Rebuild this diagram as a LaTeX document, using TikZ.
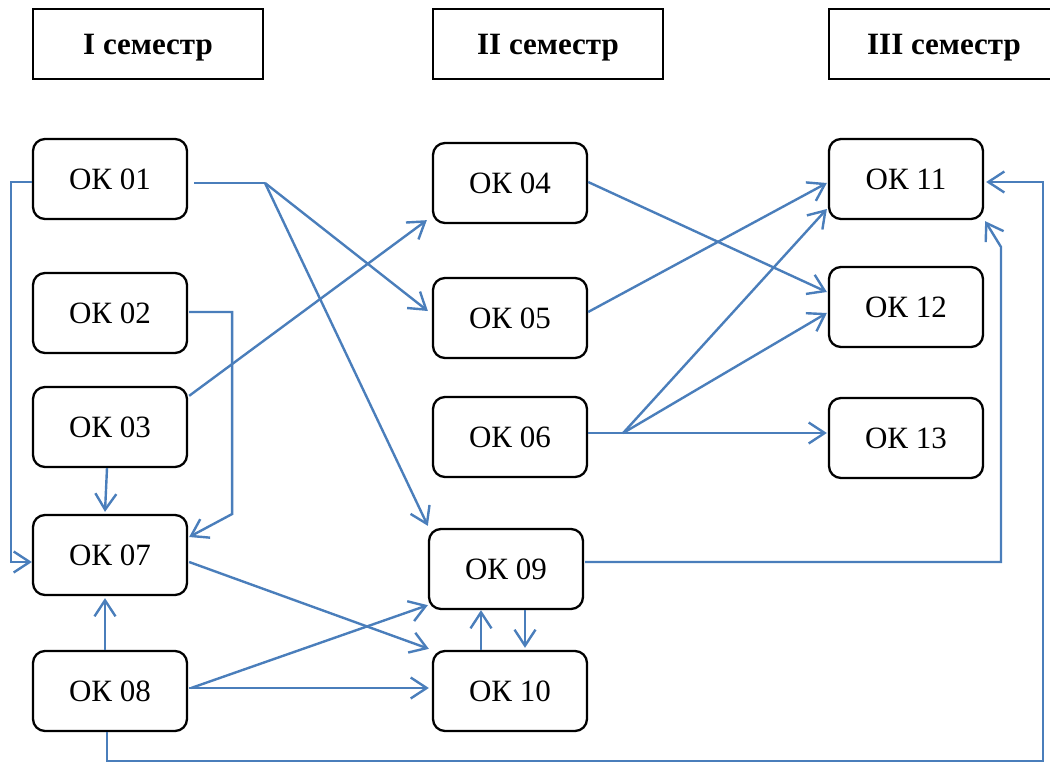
\documentclass[tikz,border=0pt]{standalone}
\usepackage{fontspec}
\setmainfont{Liberation Serif}
\usetikzlibrary{arrows.meta,calc}
\definecolor{lnblue}{RGB}{74,126,187}
\begin{document}
\begin{tikzpicture}[x=1pt,y=-1pt,
  okbox/.style={draw=black,line width=2.3pt,rounded corners=12pt,minimum width=154pt,minimum height=80pt,inner sep=0pt,font=\fontsize{31}{36}\selectfont},
  hdr/.style={draw=black,line width=2.3pt,minimum width=230pt,minimum height=70pt,inner sep=0pt,text height=21pt,text depth=0pt,font=\fontsize{31}{36}\selectfont\bfseries},
  conn/.style={draw=lnblue,line width=2.4pt},
  arr/.style={conn,-{Straight Barb[length=16pt,width=21pt,line width=2.4pt]}}]
\useasboundingbox (0,0) rectangle (1050,762);
% headers
\node[hdr] (h1) at (148,44) {I семестр};
\node[hdr] (h2) at (548,44) {II семестр};
\node[hdr] (h3) at (944,44) {III семестр};
% boxes
\node[okbox] (o01) at (110,179) {ОК 01};
\node[okbox] (o02) at (110,313) {ОК 02};
\node[okbox] (o03) at (110,427) {ОК 03};
\node[okbox] (o07) at (110,555) {ОК 07};
\node[okbox] (o08) at (110,691) {ОК 08};
\node[okbox] (o04) at (510,183) {ОК 04};
\node[okbox] (o05) at (510,318) {ОК 05};
\node[okbox] (o06) at (510,437) {ОК 06};
\node[okbox] (o09) at (506,569) {ОК 09};
\node[okbox] (o10) at (510,691) {ОК 10};
\node[okbox] (o11) at (906,179) {ОК 11};
\node[okbox] (o12) at (906,307) {ОК 12};
\node[okbox] (o13) at (906,438) {ОК 13};
% fan points
\coordinate (f1) at (265,183);
\coordinate (f2) at ($(o08.east)+(3,-3)$);
\coordinate (f3) at ($(o06.east)+(35,-4)$);
% OK01
\draw[arr] ($(o01.west)+(0,3)$) -- ++(-21,0) |- ($(o07.west)+(0,7)$);
\draw[conn] ($(o01.east)+(6,4)$) -- (f1);
\draw[arr] (f1) -- ($(o05.west)+(-4,-7)$);
\draw[arr] (f1) -- ($(o09.north west)+(0,-2)$);
% OK02
\draw[arr] ($(o02.east)+(1,-1)$) -- ++(43,0) -- ++(0,202) -- ($(o07.east)+(1,-18)$);
% OK03
\draw[arr] ($(o03.north east)+(1,10)$) -- ($(o04.south west)+(-5,-4)$);
\draw[arr] ($(o03.south)+(-3,0)$) -- ($(o07.north)+(-5,-2)$);
% OK08
\draw[arr] ($(o08.north)+(-5,0)$) -- ($(o07.south)+(-5,2)$);
\draw[conn] ($(o08.east)+(1,-3)$) -- (f2);
\draw[arr] (f2) -- ($(o09.south west)+(0,-5)$);
\draw[arr] (f2) -- ($(o10.west)+(-3,-3)$);
\draw[arr] ($(o08.south)+(-3,0)$) -- ++(0,29) -| (1043,182) -- ($(o11.east)+(2,3)$);
% OK07
\draw[arr] ($(o07.east)+(1,7)$) -- ($(o10.north west)+(-3,-1)$);
% OK09 / OK10
\draw[arr] ($(o09.east)+(1,-7)$) -| (1001,247) -- ($(o11.south east)+(1,1)$);
\draw[arr] ($(o10.north)+(-29,0)$) -- ($(o09.south)+(-25,0)$);
\draw[arr] ($(o09.south)+(19,0)$) -- ($(o10.north)+(15,-2)$);
% OK04, OK05
\draw[arr] ($(o04.east)+(0,-1)$) -- ($(o12.west)+(-1,-15)$);
\draw[arr] ($(o05.east)+(0,-6)$) -- ($(o11.west)+(-1,4)$);
% OK06
\draw[conn] ($(o06.east)+(0,-4)$) -- (f3);
\draw[arr] (f3) -- ($(o11.west)+(-1,30)$);
\draw[arr] (f3) -- ($(o12.west)+(-1,6)$);
\draw[arr] (f3) -- ($(o13.west)+(-1,-5)$);
\end{tikzpicture}
\end{document}
